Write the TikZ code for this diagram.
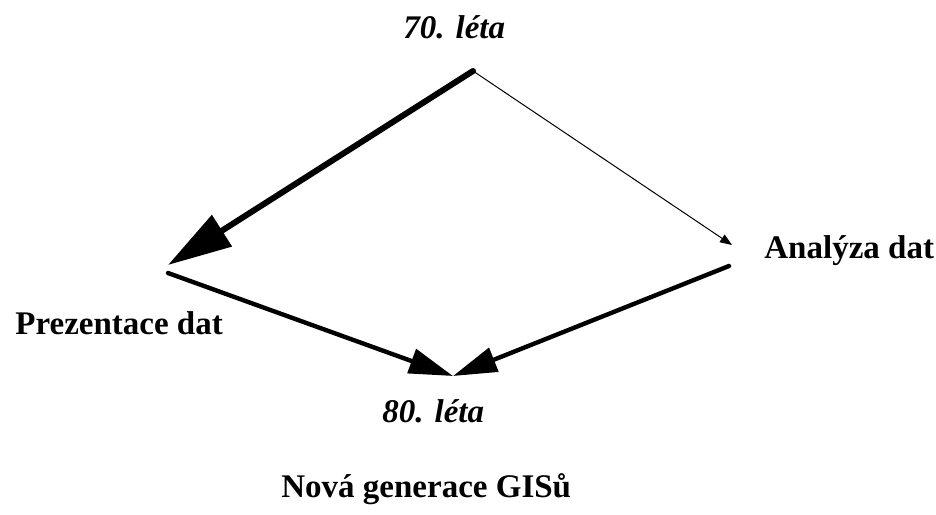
\documentclass[tikz,border=0pt]{standalone}
\usepackage{fontspec}
\setmainfont{Liberation Serif}
\usetikzlibrary{arrows.meta}

\tikzset{
  lbl/.style={font=\fontsize{16.5}{19}\selectfont\bfseries, inner sep=0pt},
  era/.style={font=\fontsize{16.5}{19}\selectfont\bfseries\itshape, inner sep=0pt},
  heavy/.style={line width=3pt, -{Triangle[length=32pt, width=18pt]}},
  medium/.style={line width=2.2pt, -{Triangle[length=22pt, width=12.5pt]}},
  fine/.style={line width=0.5pt, -{Triangle[length=6pt, width=4.5pt]}},
}

\begin{document}
\begin{tikzpicture}[x=0.5pt, y=-0.5pt]
  \useasboundingbox (0,0) rectangle (936,514);

  % text labels
  \node[era, anchor=base west] (t70) at (403,38) {70. léta};
  \node[lbl, anchor=base west] (ana) at (764,258) {Analýza dat};
  \node[lbl, anchor=base west] (pre) at (15,334) {Prezentace dat};
  \node[era, anchor=base west] (t80) at (382,422) {80. léta};
  \node[lbl, anchor=base west] (gis) at (281,497) {Nová generace GISů};

  % connector end points
  \coordinate (apex) at (473,71);
  \coordinate (lefttip) at (168,265);
  \coordinate (righttip) at (732,245);
  \coordinate (leftstart) at (168,273);
  \coordinate (rightstart) at (729,266);
  \coordinate (bottom) at (453,376);

  \draw[heavy, line cap=round] (apex) -- (lefttip);
  \draw[fine] (apex) -- (righttip);
  \draw[medium, line cap=round] (leftstart) -- (bottom);
  \draw[medium, line cap=round] (rightstart) -- (bottom);
\end{tikzpicture}
\end{document}
